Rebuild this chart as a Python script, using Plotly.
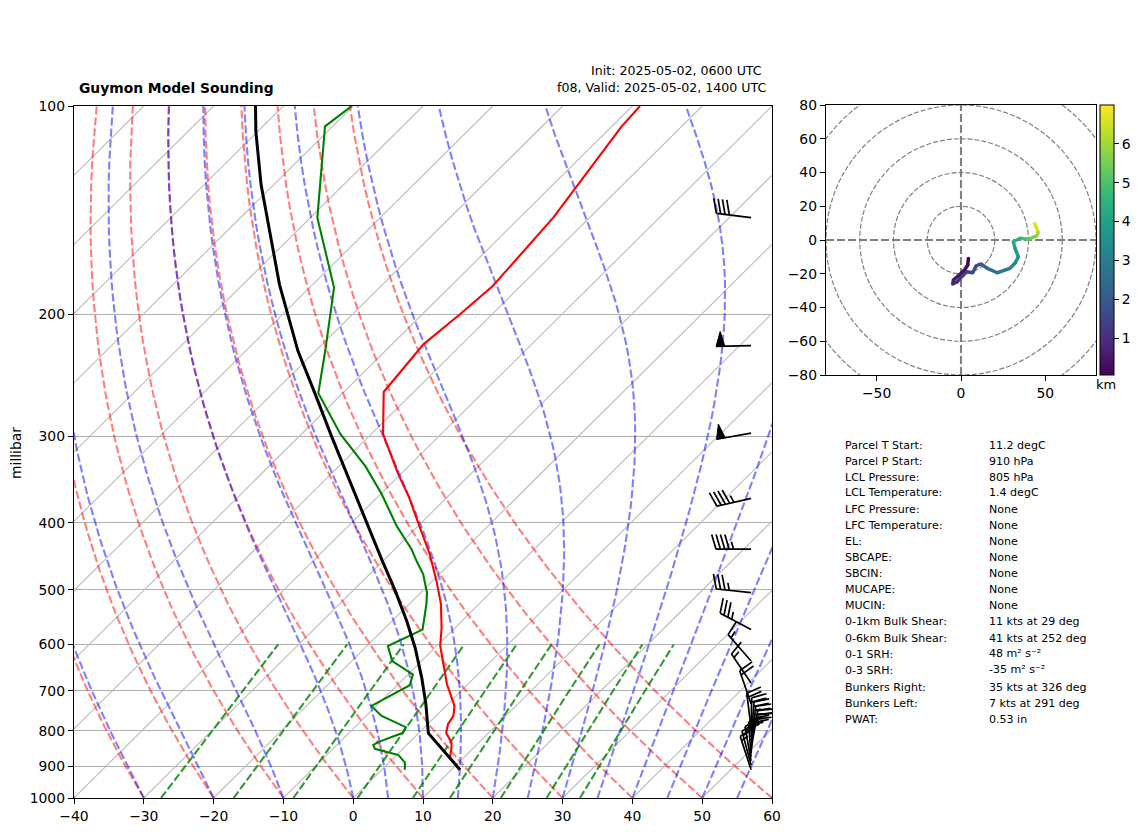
import numpy as np
import plotly.graph_objects as go
from plotly.colors import sample_colorscale

# sounding (hPa, degC)
temp_p = [910, 874, 850, 832, 805, 782, 761, 736, 685, 603, 568, 524, 486, 444, 402, 368, 339, 298, 259, 221, 200, 182, 145, 107, 100]
temp_c = [11.2, 8.0, 7.0, 6.1, 3.9, 2.9, 2.5, 1.2, -3.0, -9.5, -11.9, -15.5, -19.4, -24.3, -30.2, -35.4, -40.6, -48.3, -54.3, -55.5, -54.6, -54.0, -55.2, -58.6, -58.9]

dewp_p = [910, 889, 867, 860, 849, 838, 829, 805, 790, 761, 736, 687, 663, 634, 603, 571, 525, 505, 475, 455, 437, 405, 364, 332, 298, 260, 226, 183, 145, 107, 100]
dewp_c = [3.3, 2.3, 0.3, -1.5, -4.0, -4.8, -4.4, -2.3, -2.7, -7.8, -10.7, -8.2, -9.3, -14.2, -17.0, -14.4, -17.5, -19.1, -22.3, -25.1, -27.6, -33.0, -39.8, -46.1, -54.4, -63.5, -68.6, -76.5, -89.0, -101.1, -100.2]

parcel_p = [910, 806, 731, 671, 607, 555, 502, 455, 405, 354, 300, 260, 226, 181, 145, 130, 109, 100]
parcel_c = [11.2, 1.4, -3.2, -7.5, -12.8, -17.9, -23.9, -30.0, -37.1, -45.3, -55.4, -64.0, -72.5, -84.8, -96.2, -101.8, -110.2, -114.0]

# wind barbs
barb_p = [145, 222, 297, 369, 437, 505, 571, 634, 682, 731, 792, 805, 816, 827, 838, 850, 861, 872, 884, 896, 910]
barb_dir = [277, 269, 260, 257, 270, 276, 298, 319, 326, 341, 353, 1, 5, 8, 11, 10, 5, 356, 350, 345, 342]
barb_kt = [40, 50, 50, 45, 45, 35, 35, 15, 15, 20, 20, 20, 25, 25, 25, 25, 20, 20, 20, 15, 15]

# hodograph
hodo_u = [4.4, 4.0, 1.8, -1.0, -4.5, -4.9, -2.2, 0.4, 3.4, 6.9, 8.9, 11.9, 15.6, 21.5, 29.0, 32.0, 34.0, 32.0, 31.0, 35.0, 39.9, 44.8, 45.8, 43.5]
hodo_v = [-10.9, -14.8, -18.2, -20.7, -23.7, -26.1, -24.7, -21.7, -18.8, -19.4, -15.4, -14.2, -16.8, -19.4, -16.8, -13.8, -9.9, -4.9, -1.0, 1.0, 0.4, 2.4, 4.4, 9.9]
hodo_km = [0.05, 0.15, 0.3, 0.45, 0.6, 0.8, 1.0, 1.2, 1.4, 1.6, 1.8, 2.0, 2.3, 2.7, 3.1, 3.4, 3.7, 4.0, 4.3, 4.7, 5.2, 5.8, 6.1, 6.98]

# stats table
stat_names = ["Parcel T Start:", "Parcel P Start:", "LCL Pressure:", "LCL Temperature:", "LFC Pressure:", "LFC Temperature:", "EL:", "SBCAPE:", "SBCIN:", "MUCAPE:", "MUCIN:", "0-1km Bulk Shear:", "0-6km Bulk Shear:", "0-1 SRH:", "0-3 SRH:", "Bunkers Right:", "Bunkers Left:", "PWAT:"]
stat_vals = ["11.2 degC", "910 hPa", "805 hPa", "1.4 degC", "None", "None", "None", "None", "None", "None", "None", "11 kts at 29 deg", "41 kts at 252 deg", "48 m² s⁻²", "-35 m² s⁻²", "35 kts at 326 deg", "7 kts at 291 deg", "0.53 in"]
name_rows = [445, 461, 477, 493, 509, 525, 541.5, 557, 573, 589, 605.5, 621.5, 638, 654, 670, 687, 703, 719]
val_rows = [445, 461, 477, 493, 509, 525, 541.5, 557, 573, 589, 605.5, 621.5, 638, 653, 669, 687, 703, 719]

# background line families
isotherms = list(range(-140, 61, 10))
dry_t0 = list(range(-40, 61, 10))
moist_t0 = [-40, -30, -20, -10, 0, 5, 10, 15, 20, 25, 30, 35, 40, 45, 50, 55, 60]
mix_ratios = [0.0004, 0.001, 0.002, 0.004, 0.007, 0.01, 0.016, 0.024, 0.032]
pressure_ticks = [100, 200, 300, 400, 500, 600, 700, 800, 900, 1000]
temp_ticks = list(range(-40, 61, 10))

W, H = 1142, 832
FONT = "DejaVu Sans"
SKEW = 100.0        # degC per decade of pressure
PX_C = 6.98         # px per degC on the main axes
PX_DEC = 692.0      # px per pressure decade
BARB_X = 57.0
BARB_LEN = 35.0


def skew(t, p):
    return np.asarray(t, dtype=float) + SKEW * np.log10(1000.0 / np.asarray(p, dtype=float))


def sat_mix(t_k, p):
    es = 6.112 * np.exp(17.67 * (t_k - 273.15) / (t_k - 29.65))
    return 0.62197 * es / (p - es)


def moist_slope(t_k, p):
    rd, cp, lv, eps = 287.05, 1005.0, 2.501e6, 0.62197
    rs = sat_mix(t_k, p)
    return ((rd * t_k + lv * rs) / (cp + lv * lv * rs * eps / (rd * t_k * t_k))) / p


def moist_curve(t0, levels):
    out = [t0 + 273.15]
    for a, b in zip(levels[:-1], levels[1:]):
        h = b - a
        t = out[-1]
        k1 = moist_slope(t, a)
        k2 = moist_slope(t + h * k1 / 2, a + h / 2)
        k3 = moist_slope(t + h * k2 / 2, a + h / 2)
        k4 = moist_slope(t + h * k3, b)
        out.append(t + h * (k1 + 2 * k2 + 2 * k3 + k4) / 6)
    return np.array(out) - 273.15


def px(x):
    return x / W


def py(y):
    return 1 - y / H


def barb_segments(p0, direction, speed):
    # offsets in screen px, y up, then back to axis units
    ang = np.radians(direction)
    sx, sy = np.sin(ang), np.cos(ang)
    nx, ny = sy, -sx
    space, tall, wide = 0.125 * BARB_LEN, 0.42 * BARB_LEN, 0.25 * BARB_LEN

    def pt(along, out):
        return (along * sx + out * nx, along * sy + out * ny)

    lines = [[pt(0, 0), pt(BARB_LEN, 0)]]
    flags = []
    pos = BARB_LEN
    kt = int(round(speed / 5.0)) * 5
    n_flag, n_full, n_half = kt // 50, (kt % 50) // 10, (kt % 10) // 5
    for i in range(n_flag):
        flags.append([pt(pos, 0), pt(pos - wide / 2, tall), pt(pos - wide, 0)])
        pos -= wide + space
    for i in range(n_full):
        lines.append([pt(pos, 0), pt(pos + wide / 2, tall)])
        pos -= space
    if n_half:
        if n_full == 0 and n_flag == 0:
            pos -= space
        lines.append([pt(pos, 0), pt(pos + wide / 4, tall / 2)])

    def conv(seg):
        xs = [BARB_X + o[0] / PX_C for o in seg]
        ys = [p0 * 10 ** (-o[1] / PX_DEC) for o in seg]
        return xs, ys

    return [conv(s) for s in lines], [conv(s) for s in flags]


fig = go.Figure()

DASH = "8px,3px"
levels = np.arange(1000.0, 99.0, -10.0)

for t in isotherms:
    fig.add_trace(go.Scatter(x=skew([t, t], [1000, 100]), y=[1000, 100], mode="lines",
                             line=dict(color="#bcbcbc", width=1.1)))
for t0 in dry_t0:
    t = (t0 + 273.15) * (levels / 1000.0) ** 0.2854 - 273.15
    fig.add_trace(go.Scatter(x=skew(t, levels), y=levels, mode="lines",
                             line=dict(color="rgba(255,0,0,0.5)", width=2.1, dash=DASH)))
for t0 in moist_t0:
    t = moist_curve(t0, levels)
    fig.add_trace(go.Scatter(x=skew(t, levels), y=levels, mode="lines",
                             line=dict(color="rgba(0,0,255,0.5)", width=2.1, dash=DASH)))
mix_levels = np.arange(1000.0, 599.0, -25.0)
for w in mix_ratios:
    e = mix_levels * w / (0.62197 + w)
    lg = np.log(e / 6.112)
    td = 243.5 * lg / (17.67 - lg)
    fig.add_trace(go.Scatter(x=skew(td, mix_levels), y=mix_levels, mode="lines",
                             line=dict(color="rgba(0,128,0,0.8)", width=2.1, dash=DASH)))

fig.add_trace(go.Scatter(x=skew(temp_c, temp_p), y=temp_p, mode="lines", line=dict(color="red", width=2.1)))
fig.add_trace(go.Scatter(x=skew(dewp_c, dewp_p), y=dewp_p, mode="lines", line=dict(color="green", width=2.1)))
fig.add_trace(go.Scatter(x=skew(parcel_c, parcel_p), y=parcel_p, mode="lines", line=dict(color="black", width=3)))

barb_x, barb_y = [], []
for p0, d, s in zip(barb_p, barb_dir, barb_kt):
    lines, flags = barb_segments(p0, d, s)
    for xs, ys in lines:
        barb_x += xs + [None]
        barb_y += ys + [None]
    for xs, ys in flags:
        fig.add_trace(go.Scatter(x=xs + xs[:1], y=ys + ys[:1], mode="lines", fill="toself",
                                 fillcolor="black", line=dict(color="black", width=1)))
fig.add_trace(go.Scatter(x=barb_x, y=barb_y, mode="lines", line=dict(color="black", width=1.7)))

# hodograph
CMIN, CMAX = 0.05, 7.0
for i in range(len(hodo_u) - 1):
    level = (0.5 * (hodo_km[i] + hodo_km[i + 1]) - CMIN) / (CMAX - CMIN)
    fig.add_trace(go.Scatter(x=hodo_u[i:i + 2], y=hodo_v[i:i + 2], mode="lines", xaxis="x2", yaxis="y2",
                             line=dict(color=sample_colorscale("Viridis", [level])[0], width=3.5)))
fig.add_trace(go.Scatter(x=hodo_u, y=hodo_v, mode="markers", xaxis="x2", yaxis="y2",
                         marker=dict(size=3.5, color=hodo_km, colorscale="Viridis", cmin=CMIN, cmax=CMAX,
                                     colorbar=dict(x=px(1100), xanchor="left", y=py(105), yanchor="top",
                                                   len=270 / H, lenmode="fraction", thickness=14,
                                                   thicknessmode="pixels", xpad=0, ypad=0,
                                                   outlinecolor="black", outlinewidth=1,
                                                   ticks="outside", ticklen=5, tickcolor="black",
                                                   tickvals=[1, 2, 3, 4, 5, 6],
                                                   tickfont=dict(family=FONT, size=13.9, color="black")))))

shapes = []
for r in [20, 40, 60, 80, 100]:
    shapes.append(dict(type="circle", xref="x2", yref="y2", x0=-r, x1=r, y0=-r, y1=r,
                       line=dict(color="#808080", width=1.2, dash="5px,2px"), layer="below"))
shapes.append(dict(type="line", xref="x2", yref="y2", x0=-80, x1=80, y0=0, y1=0,
                   line=dict(color="#808080", width=2.1, dash="8px,3px"), layer="below"))
shapes.append(dict(type="line", xref="x2", yref="y2", x0=0, x1=0, y0=-80, y1=80,
                   line=dict(color="#808080", width=2.1, dash="8px,3px"), layer="below"))

anns = [
    dict(x=px(77), y=py(88), text="<b>Guymon Model Sounding</b>", xanchor="left", font=dict(size=13.85)),
    dict(x=px(764), y=py(70), text="Init: 2025-05-02, 0600 UTC", xanchor="right", font=dict(size=12.6)),
    dict(x=px(768), y=py(88), text="f08, Valid: 2025-05-02, 1400 UTC", xanchor="right", font=dict(size=12.6)),
    dict(x=px(16), y=py(453), text="millibar", textangle=-90, xanchor="center", font=dict(size=13.9)),
    dict(x=px(1106), y=py(384), text="km", xanchor="center", font=dict(size=13)),
]
for name, val, row_a, row_b in zip(stat_names, stat_vals, name_rows, val_rows):
    anns.append(dict(x=px(843), y=py(row_a), text=name, xanchor="left", font=dict(size=11.05)))
    anns.append(dict(x=px(987), y=py(row_b), text=val, xanchor="left", font=dict(size=11.05)))
for a in anns:
    a.update(xref="paper", yref="paper", showarrow=False, yanchor="middle")
    a["font"].update(family=FONT, color="black")

axis_style = dict(showline=True, mirror=True, linecolor="black", linewidth=1.4, ticks="outside",
                  ticklen=5, tickcolor="black", tickfont=dict(family=FONT, size=13.9, color="black"),
                  zeroline=False, showgrid=False)

fig.update_layout(
    width=W, height=H, template="none", showlegend=False, autosize=False,
    margin=dict(l=0, r=0, t=0, b=0), paper_bgcolor="white", plot_bgcolor="white",
    shapes=shapes, annotations=anns,
    xaxis=dict(domain=[px(74), px(772)], range=[-40, 60], tickvals=temp_ticks, anchor="y", **axis_style),
    yaxis=dict(domain=[py(798), py(106)], type="log", range=[3, 2], anchor="x",
               **{**axis_style, "showgrid": True}, gridcolor="#b0b0b0", gridwidth=1,
               tickvals=pressure_ticks, ticktext=[str(p) for p in pressure_ticks]),
    xaxis2=dict(domain=[px(826), px(1096)], range=[-80, 80], tickvals=[-50, 0, 50], anchor="y2", **axis_style),
    yaxis2=dict(domain=[py(375), py(105)], range=[-80, 80], tickvals=list(range(-80, 81, 20)), anchor="x2", **axis_style),
)

fig.write_html("out.html", config={"displayModeBar": False}, post_script="document.body.style.margin='0';")
